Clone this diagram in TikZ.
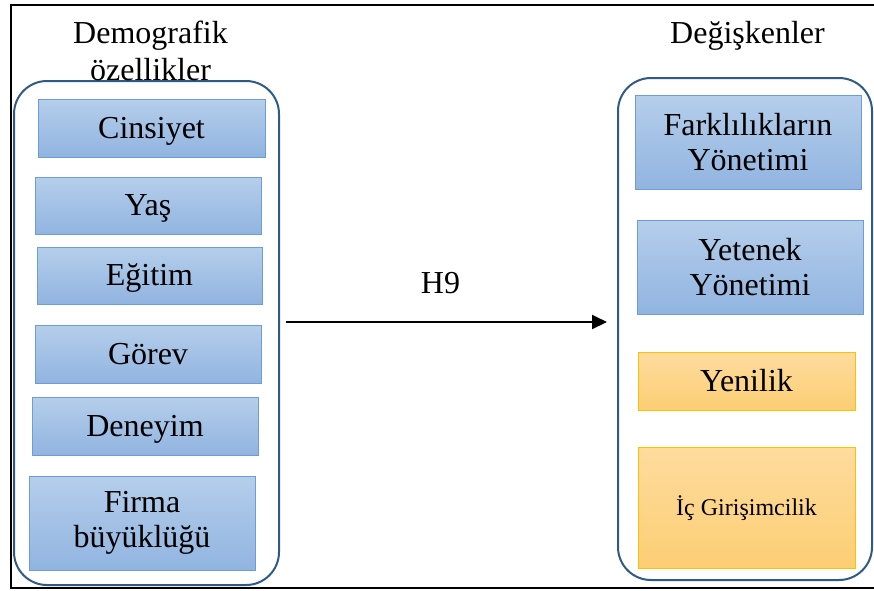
\documentclass[tikz,border=0pt]{standalone}
\usepackage{fontspec}
\setmainfont{Liberation Serif}
\usetikzlibrary{calc,arrows.meta}

\definecolor{framecol}{HTML}{2E5A86}
\definecolor{bluetop}{HTML}{B5CEEB}
\definecolor{bluebot}{HTML}{91B4E0}
\definecolor{blueedge}{HTML}{6C9DD6}
\definecolor{orgtop}{HTML}{FEDC9F}
\definecolor{orgbot}{HTML}{FCCE74}
\definecolor{orgedge}{HTML}{FFC000}

\tikzset{
  bigtext/.style={font=\fontsize{32}{35}\selectfont},
  oneline/.style={text height=27pt, text depth=7pt},
  container/.style={draw=framecol, line width=2pt, rounded corners=33pt,
    inner sep=0pt},
  bluebox/.style={bigtext, draw=blueedge, line width=1pt, top color=bluetop,
    bottom color=bluebot, inner sep=0pt, align=center},
  orgbox/.style={draw=orgedge, line width=1pt, top color=orgtop,
    bottom color=orgbot, inner sep=0pt, align=center},
  heading/.style={bigtext, align=center, inner sep=0pt},
}

\begin{document}
\begin{tikzpicture}[x=1pt, y=-1pt]
\useasboundingbox (0,0) rectangle (874,590);
\clip (0,0) rectangle (874,590);

% page frame
\draw[line width=2.5pt] (880,5) -- (11,5) -- (11,588) -- (880,588);

% group containers
\node[container, minimum width=265pt, minimum height=504pt] (L) at (146.5,333) {};
\node[container, minimum width=254pt, minimum height=502pt] (R) at (745,329) {};

% headings
\node[heading] (hL) at (150.5,50.5) {Demografik\\[2pt]özellikler};
\node[heading, anchor=base] (hR) at (747.5,43) {Değişkenler};

% demographic items
\node[bluebox, oneline, minimum width=227pt, minimum height=58pt] (b1) at (151.5,128) {Cinsiyet};
\node[bluebox, oneline, minimum width=226pt, minimum height=57pt] (b2) at (148,205.5) {Yaş};
\node[bluebox, oneline, minimum width=225pt, minimum height=57pt] (b3) at (149.5,275.5) {Eğitim};
\node[bluebox, oneline, minimum width=226pt, minimum height=58pt] (b4) at (148,354) {Görev};
\node[bluebox, oneline, minimum width=226pt, minimum height=58pt] (b5) at (145,426) {Deneyim};
\node[bluebox, minimum width=226pt, minimum height=94pt] (b6) at (142,523) {Firma\\büyüklüğü};

% variables
\node[bluebox, minimum width=226pt, minimum height=94pt] (v1) at (748,142) {Farklılıkların\\Yönetimi};
\node[bluebox, minimum width=226pt, minimum height=94pt] (v2) at (750,267) {Yetenek\\Yönetimi};
\node[orgbox, bigtext, oneline, minimum width=217pt, minimum height=58pt] (v3) at (746.5,381) {Yenilik};
\node[orgbox, font=\fontsize{24}{28}\selectfont, text height=20pt, text depth=5pt,
  minimum width=217pt, minimum height=121pt] (v4) at (746.5,507.5) {İç Girişimcilik};

% hypothesis arrow
\draw[line width=2pt, -{Triangle[length=15pt, width=14pt]}]
  ($(L.east)+(6,-11)$) -- ($(R.west)+(-10,-7)$)
  node[midway, bigtext, anchor=base, yshift=29pt, xshift=-6pt] (h9) {H9};
\end{tikzpicture}
\end{document}
